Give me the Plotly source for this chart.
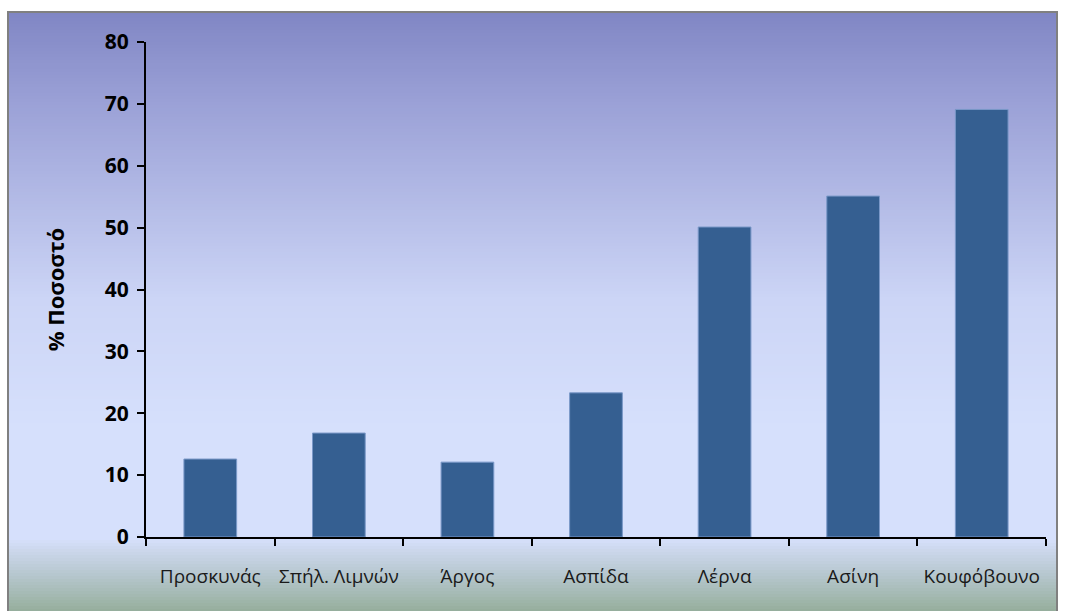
import plotly.graph_objects as go

# Percentage per site
sites = ["Προσκυνάς", "Σπήλ. Λιμνών", "Άργος", "Ασπίδα", "Λέρνα", "Ασίνη", "Κουφόβουνο"]
percent = [12.6, 16.8, 12.1, 23.3, 50.1, 55.1, 69.1]
y_ticks = [0, 10, 20, 30, 40, 50, 60, 70, 80]

W, H = 1065, 611
L, R, T, B = 146, 19, 42, 74
plot_w = W - L - R
plot_h = H - T - B


def px_to_paper_x(px):
    return (px - L) / plot_w


def px_to_paper_y(py):
    return (H - B - py) / plot_h


# vertical background gradient (pixel row -> rgb)
stops = [
    (12, (128, 134, 196)),
    (100, (154, 160, 214)),
    (300, (204, 213, 246)),
    (430, (214, 224, 252)),
    (539, (214, 224, 252)),
    (550, (204, 215, 236)),
    (575, (182, 199, 206)),
    (611, (150, 174, 156)),
]


def colour_at(py):
    for (y0, c0), (y1, c1) in zip(stops, stops[1:]):
        if y0 <= py <= y1:
            t = (py - y0) / (y1 - y0)
            return "rgb(%d,%d,%d)" % tuple(round(a + (b - a) * t) for a, b in zip(c0, c1))
    return "rgb(%d,%d,%d)" % stops[-1][1]


frame_l, frame_r, frame_t = 8, 1057, 12
shapes = []
step = 3
for py in range(frame_t, H + step, step):
    shapes.append(dict(
        type="rect", xref="paper", yref="paper", layer="below",
        x0=px_to_paper_x(frame_l), x1=px_to_paper_x(frame_r),
        y0=px_to_paper_y(py + step), y1=px_to_paper_y(py),
        fillcolor=colour_at(py + step / 2), line=dict(width=0),
    ))
# grey frame
shapes.append(dict(
    type="rect", xref="paper", yref="paper", layer="below",
    x0=px_to_paper_x(frame_l), x1=px_to_paper_x(frame_r),
    y0=px_to_paper_y(H + 5), y1=px_to_paper_y(frame_t),
    fillcolor="rgba(0,0,0,0)", line=dict(color="#808080", width=2),
))

fig = go.Figure(go.Bar(
    x=sites, y=percent, width=0.41,
    marker=dict(color="#355f91", line=dict(color="#7a98c8", width=1)),
    hoverinfo="x+y",
))

fig.update_layout(
    width=W, height=H,
    margin=dict(l=L, r=R, t=T, b=B, autoexpand=False),
    paper_bgcolor="white", plot_bgcolor="rgba(0,0,0,0)",
    shapes=shapes, showlegend=False,
    font=dict(family="Open Sans, Liberation Sans, sans-serif", color="#000"),
)
fig.update_xaxes(
    type="category", range=[-0.5, len(sites) - 0.5],
    showline=True, linecolor="#000", linewidth=2,
    ticks="outside", tickson="boundaries", ticklen=7, tickwidth=2, tickcolor="#000",
    showgrid=False, zeroline=False, automargin=False, tickangle=0,
    tickfont=dict(size=19, color="#1a1a1a"), ticklabelstandoff=21,
)
fig.update_yaxes(
    range=[0, 80], tickvals=y_ticks,
    showline=True, linecolor="#000", linewidth=2,
    ticks="outside", ticklen=7, tickwidth=2, tickcolor="#000",
    showgrid=False, zeroline=False, automargin=False,
    tickfont=dict(size=21, family="Open Sans, sans-serif", color="#000", weight="bold"),
    ticklabelstandoff=4,
    title=dict(text="<b>% Ποσοστό</b>", font=dict(size=22, color="#000"), standoff=34),
)

fig.write_html("out.html")
